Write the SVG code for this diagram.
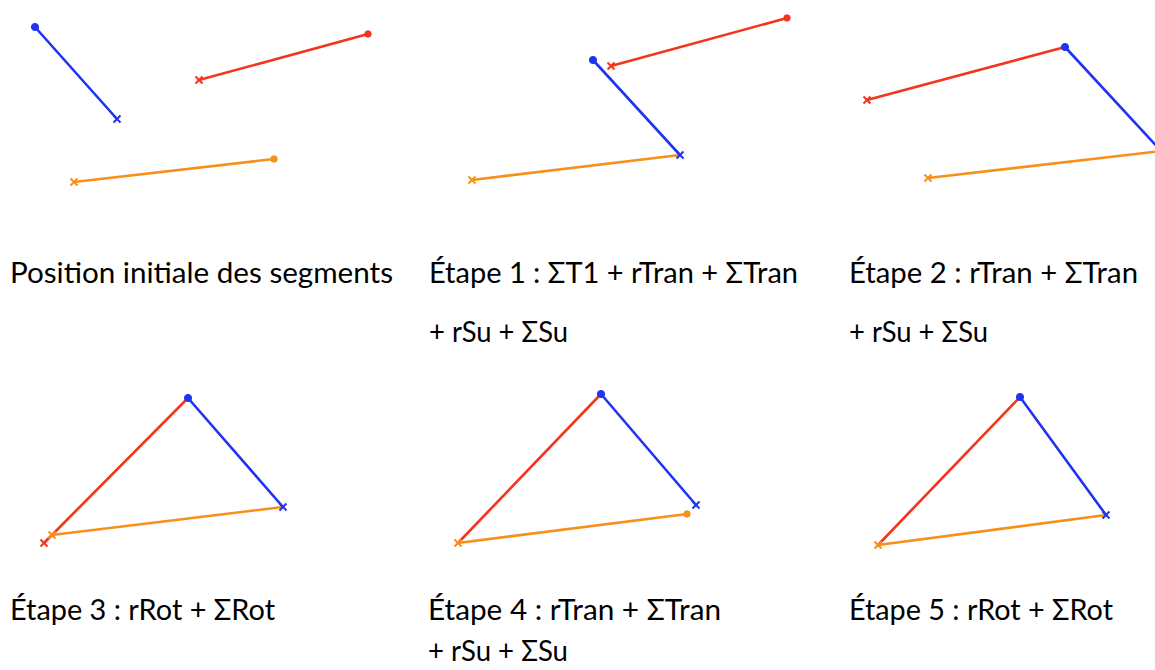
<svg xmlns="http://www.w3.org/2000/svg" xmlns:xlink="http://www.w3.org/1999/xlink" width="1155" height="670" viewBox="0 0 1155 670">
<style>
.seg{fill:none;stroke-width:2.6;stroke-linecap:round}
.b{stroke:#1f34f2;fill:#1f34f2}
.r{stroke:#f4341c;fill:#f4341c}
.o{stroke:#f7901a;fill:#f7901a}
.lbl{font-family:Lato,"Open Sans","Liberation Sans",sans-serif;font-size:29px;fill:#000}
</style>
<defs>
<path id="x" d="M-3.5,-3.5L3.5,3.5M-3.5,3.5L3.5,-3.5" stroke-width="2"/>
</defs>
<rect width="1155" height="670" fill="#fff"/>

<g id="panel-initial">
  <line class="seg r" x1="199" y1="80" x2="368" y2="34"/>
  <use xlink:href="#x" class="r" x="199" y="80"/>
  <circle class="r" cx="368" cy="34" r="3.2" stroke="none"/>
  <line class="seg o" x1="74" y1="182" x2="274" y2="159"/>
  <use xlink:href="#x" class="o" x="74" y="182"/>
  <circle class="o" cx="274" cy="159" r="3.2" stroke="none"/>
  <line class="seg b" x1="35" y1="27" x2="117" y2="119"/>
  <circle class="b" cx="35" cy="27" r="3.6" stroke="none"/>
  <use xlink:href="#x" class="b" x="117" y="119"/>
  <text class="lbl" x="10" y="283" textLength="383" lengthAdjust="spacingAndGlyphs">Position initiale des segments</text>
</g>

<g id="panel-etape1">
  <line class="seg r" x1="611" y1="66" x2="787" y2="18"/>
  <use xlink:href="#x" class="r" x="611" y="66"/>
  <circle class="r" cx="787" cy="18" r="3.2" stroke="none"/>
  <line class="seg o" x1="472" y1="180" x2="680" y2="155"/>
  <use xlink:href="#x" class="o" x="472" y="180"/>
  <line class="seg b" x1="593" y1="60" x2="680" y2="155"/>
  <circle class="b" cx="593" cy="60" r="3.6" stroke="none"/>
  <use xlink:href="#x" class="b" x="680" y="155"/>
  <text class="lbl" x="429" y="283" textLength="369" lengthAdjust="spacingAndGlyphs">Étape 1 : ΣT1 + rTran + ΣTran</text>
  <text class="lbl" x="429" y="342" textLength="139" lengthAdjust="spacingAndGlyphs">+ rSu + ΣSu</text>
</g>

<g id="panel-etape2">
  <line class="seg r" x1="867" y1="100" x2="1065" y2="47"/>
  <use xlink:href="#x" class="r" x="867" y="100"/>
  <line class="seg o" x1="928" y1="178" x2="1162" y2="151"/>
  <use xlink:href="#x" class="o" x="928" y="178"/>
  <line class="seg b" x1="1065" y1="47" x2="1162" y2="152"/>
  <circle class="b" cx="1065" cy="47" r="3.6" stroke="none"/>
  <text class="lbl" x="849" y="283" textLength="289" lengthAdjust="spacingAndGlyphs">Étape 2 : rTran + ΣTran</text>
  <text class="lbl" x="849" y="342" textLength="139" lengthAdjust="spacingAndGlyphs">+ rSu + ΣSu</text>
</g>

<g id="panel-etape3">
  <line class="seg r" x1="188" y1="398" x2="44" y2="543"/>
  <use xlink:href="#x" class="r" x="44" y="543"/>
  <line class="seg o" x1="52" y1="535" x2="283" y2="507"/>
  <use xlink:href="#x" class="o" x="52" y="535"/>
  <line class="seg b" x1="188" y1="398" x2="283" y2="507"/>
  <circle class="b" cx="188" cy="398" r="3.6" stroke="none"/>
  <use xlink:href="#x" class="b" x="283" y="507"/>
  <text class="lbl" x="10" y="620" textLength="265" lengthAdjust="spacingAndGlyphs">Étape 3 : rRot + ΣRot</text>
</g>

<g id="panel-etape4">
  <line class="seg r" x1="601" y1="394" x2="458" y2="543"/>
  <line class="seg o" x1="458" y1="543" x2="687" y2="514"/>
  <use xlink:href="#x" class="o" x="458" y="543"/>
  <circle class="o" cx="687" cy="514" r="3.2" stroke="none"/>
  <line class="seg b" x1="601" y1="394" x2="696" y2="505"/>
  <circle class="b" cx="601" cy="394" r="3.6" stroke="none"/>
  <use xlink:href="#x" class="b" x="696" y="505"/>
  <text class="lbl" x="428" y="620" textLength="293" lengthAdjust="spacingAndGlyphs">Étape 4 : rTran + ΣTran</text>
  <text class="lbl" x="428" y="661" textLength="140" lengthAdjust="spacingAndGlyphs">+ rSu + ΣSu</text>
</g>

<g id="panel-etape5">
  <line class="seg r" x1="1020" y1="397" x2="878" y2="545"/>
  <line class="seg o" x1="878" y1="545" x2="1106" y2="515"/>
  <use xlink:href="#x" class="o" x="878" y="545"/>
  <line class="seg b" x1="1020" y1="397" x2="1106" y2="515"/>
  <circle class="b" cx="1020" cy="397" r="3.6" stroke="none"/>
  <use xlink:href="#x" class="b" x="1106" y="515"/>
  <text class="lbl" x="849" y="620" textLength="264" lengthAdjust="spacingAndGlyphs">Étape 5 : rRot + ΣRot</text>
</g>
</svg>
